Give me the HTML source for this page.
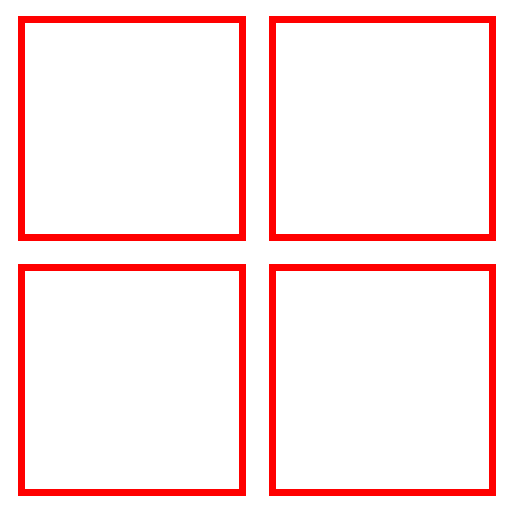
<!DOCTYPE html>
<html><head><style>
html,body{margin:0;padding:0;background:#fff;width:512px;height:512px;overflow:hidden}
.sq{position:absolute;box-sizing:border-box;border:7px solid #ff0000}
</style></head><body>
<div class="sq" style="left:18px;top:16px;width:228px;height:225px"></div>
<div class="sq" style="left:269px;top:16px;width:227px;height:225px"></div>
<div class="sq" style="left:18px;top:264px;width:228px;height:232px"></div>
<div class="sq" style="left:269px;top:264px;width:227px;height:232px"></div>
</body></html>
